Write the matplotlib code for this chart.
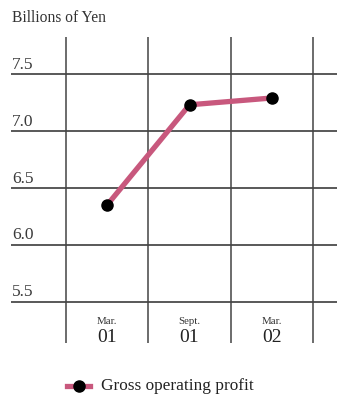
import matplotlib
matplotlib.use("Agg")
import matplotlib.pyplot as plt
from matplotlib.lines import Line2D
import matplotlib.transforms as mtransforms

# Gross operating profit, billions of yen
periods_month = ["Mar.", "Sept.", "Mar."]
periods_year = ["01", "01", "02"]
profit = [6.35, 7.23, 7.29]
y_ticks = [5.5, 6.0, 6.5, 7.0, 7.5]
y_tick_labels = ["5.5", "6.0", "6.5", "7.0", "7.5"]

plt.rcParams["font.family"] = ["Liberation Serif", "DejaVu Serif"]

W, H = 337, 399
fig = plt.figure(figsize=(W / 100, H / 100), dpi=100)
ax = fig.add_axes([11 / W, 1 - 343 / H, 1 - 11 / W, (343 - 37) / H])
ax.set_xlim(-1.164, 2.788)
ax.set_ylim(5.14, 7.825)
ax.axis("off")

grid_color = "#2b2b2b"
for yv in y_ticks:
    ax.axhline(yv, color=grid_color, lw=1.1, zorder=1)
for xv in [-0.5, 0.5, 1.5, 2.5]:
    ax.axvline(xv, color="#444444", lw=1.1, zorder=1)

xs = list(range(len(profit)))
line_color = "#c8587d"
ax.plot(xs, profit, color=line_color, lw=3.8, zorder=3, solid_capstyle="butt")
ax.plot(xs, profit, "o", color="black", ms=8, zorder=4)

# y-axis labels sit just above their gridlines at the left edge
trans = mtransforms.blended_transform_factory(fig.transFigure, ax.transData)
offset = mtransforms.ScaledTranslation(0, 1.5 / 100, fig.dpi_scale_trans)
for yv, lab in zip(y_ticks, y_tick_labels):
    ax.text(12 / W, yv, lab, transform=trans + offset, ha="left", va="bottom",
            fontsize=12.5, color="#3a3a3a")

# period labels beneath the grid
xtrans = mtransforms.blended_transform_factory(ax.transData, fig.transFigure)
for x, m, yr in zip(xs, periods_month, periods_year):
    ax.text(x, 1 - 321 / H, m, transform=xtrans, ha="center", va="center",
            fontsize=7.8, color="#333333")
    ax.text(x, 1 - 338 / H, yr, transform=xtrans, ha="center", va="center",
            fontsize=14, color="#222222")

fig.text(12 / W, 1 - 18 / H, "Billions of Yen", ha="left", va="center",
         fontsize=11.2, color="#333333")

# legend
fig.add_artist(Line2D([67 / W, 90 / W], [1 - 386 / H] * 2, color=line_color,
                      lw=3.8, transform=fig.transFigure))
fig.add_artist(Line2D([79 / W], [1 - 386 / H], marker="o", color="black", ms=8,
                      transform=fig.transFigure))
fig.text(101 / W, 1 - 386 / H, "Gross operating profit", ha="left", va="center",
         fontsize=12.4, color="#222222")

fig.savefig("out.png", dpi=100)
